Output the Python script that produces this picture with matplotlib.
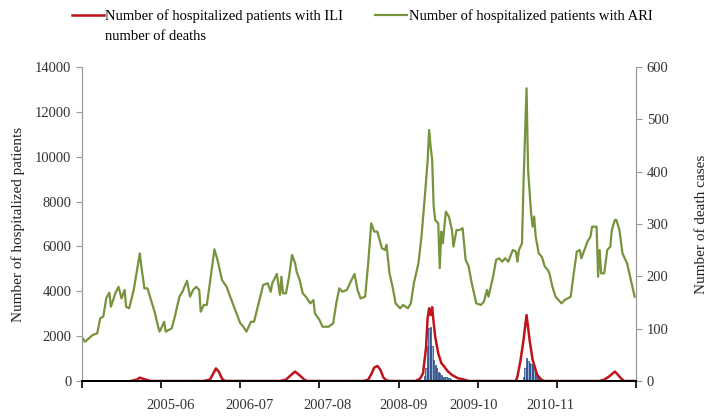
import numpy as np
import matplotlib
matplotlib.use('Agg')
import matplotlib.pyplot as plt
from matplotlib.patches import Rectangle

plt.rcParams['font.family'] = ['Liberation Serif', 'DejaVu Serif']

# ARI inpatients (left axis): week index, count
ari_week = [0, 2, 7, 10, 12, 14, 16, 18, 19, 22, 24, 26, 28, 29, 31, 34, 36, 38, 39, 41,
            43, 46, 48, 50, 51, 54, 55, 59, 61, 64, 66, 69, 71, 73, 75, 77, 78, 80, 82, 84,
            87, 89, 92, 95, 99, 104, 106, 108, 111, 113, 116, 119, 122, 124, 125, 128, 130, 131, 132, 134,
            136, 138, 140, 141, 143, 145, 147, 150, 152, 153, 156, 158, 162, 165, 167, 169, 171, 174, 176, 179,
            181, 183, 186, 188, 190, 192, 194, 197, 199, 200, 202, 204, 206, 209, 211, 214, 216, 218, 221, 223,
            225, 227, 228, 229, 230, 231, 232, 234, 235, 236, 237, 239, 241, 243, 244, 246, 248, 250, 252, 254,
            256, 259, 262, 264, 266, 267, 270, 272, 274, 276, 278, 280, 283, 285, 286, 287, 289, 290, 292, 293,
            295, 296, 297, 298, 300, 302, 304, 306, 307, 309, 311, 315, 317, 319, 321, 323, 325, 327, 328, 330,
            332, 334, 335, 338, 339, 340, 341, 343, 345, 347, 348, 350, 351, 353, 355, 358, 360, 362, 363]
ari_value = [1950, 1750, 2050, 2120, 2800, 2870, 3700, 3940, 3310, 3920, 4200, 3680, 4060, 3310, 3240, 4060, 4870, 5690, 5100, 4130,
             4130, 3460, 3020, 2420, 2200, 2640, 2200, 2350, 2870, 3760, 3980, 4470, 3760, 4060, 4200, 4060, 3090, 3390, 3390, 4360,
             5870, 5400, 4500, 4200, 3460, 2570, 2420, 2200, 2640, 2640, 3460, 4280, 4360, 3980, 4360, 4770, 3840, 4650, 3910, 3910,
             4650, 5620, 5250, 4870, 4500, 3910, 3760, 3460, 3610, 3020, 2720, 2420, 2420, 2570, 3460, 4130, 3980, 4060, 4360, 4770,
             4060, 3680, 3760, 5250, 7030, 6660, 6660, 5920, 5840, 6070, 4800, 4200, 3460, 3240, 3390, 3240, 3460, 4360, 5250, 6440,
             8070, 9780, 11190, 10450, 9860, 7780, 7180, 7030, 5030, 6660, 6140, 7550, 7330, 6730, 5990, 6730, 6730, 6810, 5400, 5100,
             4360, 3460, 3390, 3540, 4060, 3760, 4650, 5400, 5470, 5320, 5470, 5320, 5840, 5770, 5320, 5840, 6140, 8810, 13050, 9410,
             7470, 6880, 7330, 6440, 5690, 5540, 5100, 4950, 4800, 4200, 3760, 3460, 3610, 3680, 3760, 4800, 5770, 5840, 5470, 5840,
             6210, 6440, 6880, 6880, 4650, 5840, 4800, 4800, 5840, 5990, 6730, 7180, 7180, 6730, 5690, 5250, 4650, 4060, 3760]

# ILI inpatients (left axis)
ili_week = [32, 36, 38, 40, 42, 45, 80, 84, 86, 88, 90, 92, 94, 130, 134, 137, 140, 143, 146, 148,
            185, 188, 190, 192, 194, 196, 198, 200, 202, 219, 222, 224, 226, 227, 228, 229, 230, 231, 232, 234,
            236, 238, 240, 243, 247, 250, 254, 285, 286, 288, 290, 292, 294, 296, 299, 302, 304, 340, 343, 346,
            348, 350, 352, 354, 356, 364]
ili_value = [0, 60, 150, 100, 60, 0, 0, 60, 300, 560, 400, 100, 0, 0, 60, 250, 420, 250, 60, 0,
             0, 60, 300, 600, 670, 500, 150, 30, 0, 0, 100, 340, 1500, 2800, 3240, 2940, 3290, 2600, 1980, 1230,
             800, 640, 450, 270, 120, 80, 0, 0, 190, 900, 1830, 2940, 1830, 940, 270, 40, 0, 0, 60, 190,
             300, 420, 280, 120, 0, 0]

# deaths (right axis), weekly bars
death_week = [225, 226, 227, 228, 229, 230, 231, 232, 233, 234, 235, 236, 237, 238, 239, 240, 241, 242, 243,
              290, 291, 292, 293, 294, 295, 296, 297, 298, 299, 300, 301, 302]
death_value = [10, 24, 66, 101, 104, 66, 40, 30, 24, 18, 15, 12, 8, 8, 7, 6, 5, 3, 2,
               8, 24, 43, 38, 34, 32, 31, 24, 15, 11, 7, 5, 2]

season_ticks = [0, 52, 104, 156, 208, 260, 312, 364]
season_label_pos = [58, 110, 161, 211, 257, 308]
season_labels = ['2005-06', '2006-07', '2007-08', '2008-09', '2009-10', '2010-11']

fig = plt.figure(figsize=(7.14, 4.2), dpi=100)
ax1 = fig.add_axes([0.1148, 0.0929, 0.7762, 0.7476])
ax2 = ax1.twinx()

ax2.bar(death_week, death_value, width=0.9, color='#95b3d7', edgecolor='#1f3a7a', linewidth=0.5)
ax2.set_ylim(0, 600)
ax2.set_yticks(np.arange(0, 601, 100))

# lines above the bars
ax1.set_zorder(ax2.get_zorder() + 1)
ax1.patch.set_visible(False)

l_ili, = ax1.plot(ili_week, ili_value, color='#c0141c', lw=1.8)
l_ari, = ax1.plot(ari_week, ari_value, color='#77933c', lw=1.6)
ax1.set_ylim(0, 14000)
ax1.set_xlim(0, 364)
ax1.set_yticks(np.arange(0, 14001, 2000))

ax1.set_xticks(season_ticks)
ax1.set_xticklabels([])
ax1.set_xticks(season_label_pos, minor=True)
ax1.set_xticklabels(season_labels, minor=True)
ax1.tick_params(axis='x', which='major', direction='out', length=5, width=1.2, color='black')
ax1.tick_params(axis='x', which='minor', length=0, pad=13, labelsize=10.5, labelcolor='#333333')
ax1.tick_params(axis='y', direction='out', length=4, color='#999999', labelsize=10.5, labelcolor='#333333')
ax2.tick_params(axis='y', direction='out', length=4, color='#999999', labelsize=10.5, labelcolor='#333333')

for ax in (ax1, ax2):
    ax.spines['top'].set_visible(False)
    ax.spines['left'].set_color('#999999')
    ax.spines['right'].set_color('#999999')
    ax.spines['bottom'].set_color('black')
    ax.spines['bottom'].set_linewidth(1.4)

ax1.set_ylabel('Number of hospitalized patients', fontsize=11, color='#222222', labelpad=7)
ax2.set_ylabel('Number of death cases', fontsize=11, color='#222222', labelpad=19)

blank = Rectangle((0, 0), 1, 1, alpha=0)
fig.legend([l_ili, blank, l_ari],
           ['Number of hospitalized patients with ILI', 'number of deaths',
            'Number of hospitalized patients with ARI'],
           ncol=2, loc='upper left', bbox_to_anchor=(0.082, 1.01), frameon=False,
           fontsize=10.5, handlelength=2.2, handletextpad=0.1, columnspacing=2.2,
           labelspacing=0.5)

plt.savefig('out.png', dpi=100)
